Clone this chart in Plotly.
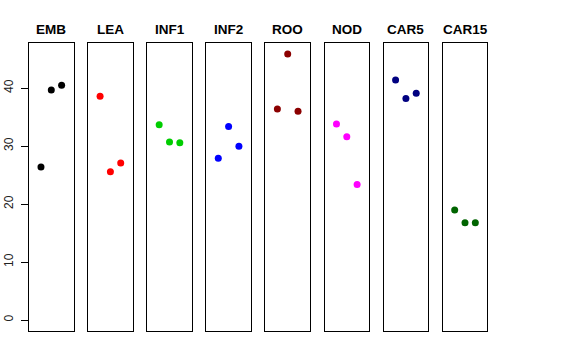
import plotly.graph_objects as go

groups = ["EMB", "LEA", "INF1", "INF2", "ROO", "NOD", "CAR5", "CAR15"]
x_pos = [1, 2, 3]
values = {
    "EMB": [26.4, 39.7, 40.5],
    "LEA": [38.6, 25.6, 27.1],
    "INF1": [33.7, 30.7, 30.6],
    "INF2": [27.9, 33.4, 30.0],
    "ROO": [36.4, 45.9, 36.0],
    "NOD": [33.8, 31.6, 23.4],
    "CAR5": [41.4, 38.2, 39.1],
    "CAR15": [19.0, 16.8, 16.8],
}
colors = ["#000000", "#FF0000", "#00CD00", "#0000FF", "#8B0000", "#FF00FF", "#000080", "#006400"]
y_ticks = [0, 10, 20, 30, 40]

W, H = 576, 360
left0, pitch, pw = 29.0, 59.1, 44.6
ytop, ybot = 43.3, 330.7
title_y = 29.5
ymax = 45.9
yrange = [-0.04 * ymax, ymax * 1.04]
xrange = [-0.16, 4.16]

fig = go.Figure()
layout = dict(
    width=W, height=H, margin=dict(l=0, r=0, t=0, b=0, autoexpand=False),
    paper_bgcolor="white", plot_bgcolor="white", showlegend=False,
    font=dict(family="Liberation Sans, Arial, sans-serif", color="#000000"),
)
annotations = []
for i, g in enumerate(groups):
    sfx = "" if i == 0 else str(i + 1)
    x0 = (left0 + i * pitch) / W
    x1 = (left0 + i * pitch + pw) / W
    fig.add_trace(go.Scatter(
        x=x_pos, y=values[g], mode="markers",
        marker=dict(color=colors[i], size=7),
        xaxis="x" + sfx, yaxis="y" + sfx, hoverinfo="skip",
    ))
    layout["xaxis" + sfx] = dict(
        domain=[x0, x1], range=xrange, anchor="y" + sfx, automargin=False,
        showline=True, mirror=True, linecolor="#000000", linewidth=1,
        showgrid=False, zeroline=False, showticklabels=False, ticks="",
    )
    yax = dict(
        domain=[(H - ybot) / H, (H - ytop) / H], range=yrange, anchor="x" + sfx,
        automargin=False,
        showline=True, mirror=True, linecolor="#000000", linewidth=1,
        showgrid=False, zeroline=False,
    )
    if i == 0:
        yax.update(tickmode="array", tickvals=y_ticks, ticktext=[str(v) for v in y_ticks],
                   ticks="outside", ticklen=7, tickcolor="#000000", tickangle=-90,
                   ticklabelstandoff=3,
                   tickfont=dict(size=12, color="#222222"), showticklabels=True)
    else:
        yax.update(showticklabels=False, ticks="")
    layout["yaxis" + sfx] = yax
    annotations.append(dict(
        text="<b>%s</b>" % g, x=(x0 + x1) / 2, y=(H - title_y) / H,
        xref="paper", yref="paper", showarrow=False,
        font=dict(size=13.5, color="#000000"), xanchor="center", yanchor="middle",
    ))
layout["annotations"] = annotations
fig.update_layout(**layout)
fig.write_html("out.html", config={"displayModeBar": False},
               post_script="document.body.style.margin='0px';")
